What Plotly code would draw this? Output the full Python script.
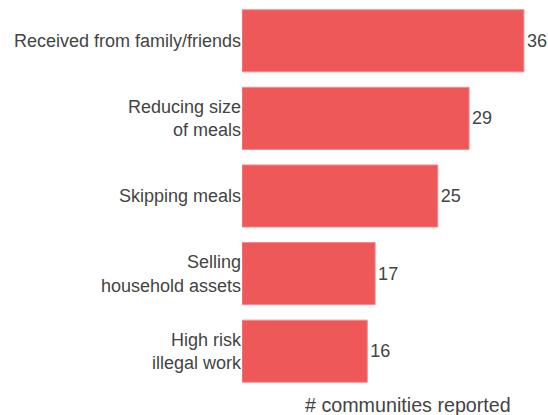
import plotly.graph_objects as go

categories = ["Received from family/friends", "Reducing size<br>of meals", "Skipping meals",
              "Selling<br>household assets", "High risk<br>illegal work"]
values = [36, 29, 25, 17, 16]

FONT = dict(size=18, color="#444444")

fig = go.Figure(go.Bar(
    x=values, y=categories, orientation="h",
    marker=dict(color="#EE5859", line=dict(color="#F48A8B", width=1)),
    text=[str(v) for v in values], textposition="outside", cliponaxis=False,
    textfont=FONT, hoverinfo="skip",
))
fig.update_layout(
    width=548, height=415,
    margin=dict(l=242, r=10, t=2, b=25),
    paper_bgcolor="white", plot_bgcolor="white",
    font=dict(family="Liberation Sans, Arial", **FONT),
    bargap=0.2, showlegend=False,
    xaxis=dict(range=[0, 37.8], showgrid=False, zeroline=False, showticklabels=False, ticks=""),
    yaxis=dict(range=[4.5, -0.5], showgrid=False, ticks="", ticklabelstandoff=0,
               categoryorder="array", categoryarray=categories),
)
fig.add_annotation(text="# communities reported", xref="paper", yref="paper",
                   x=(407.5 - 242) / (548 - 252), y=0, yshift=-15, showarrow=False,
                   xanchor="center", yanchor="middle",
                   font=dict(size=19.7, color="#444444"))
fig.write_html("out.html", config={"displayModeBar": False},
               post_script="document.body.style.margin='0';")
